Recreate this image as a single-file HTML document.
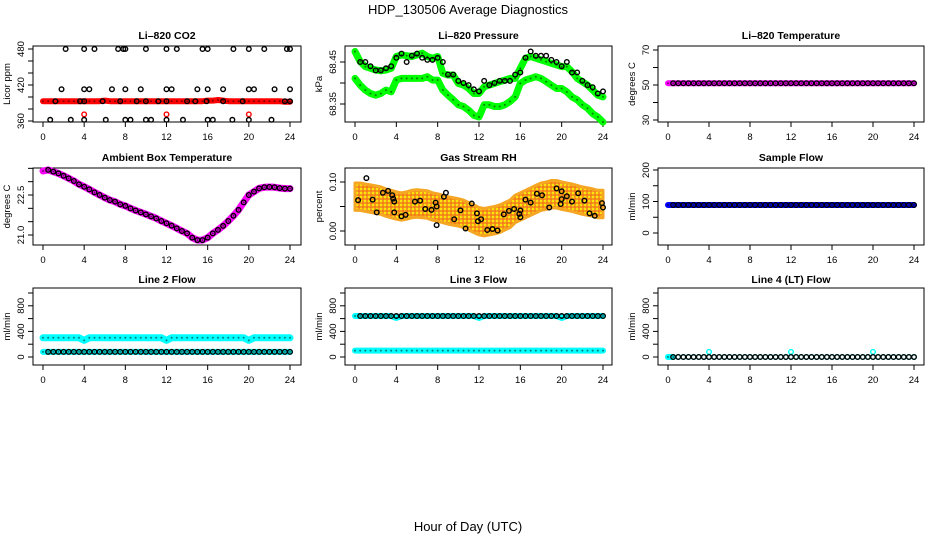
<!DOCTYPE html>
<html><head><meta charset="utf-8"><style>
html,body{margin:0;padding:0;background:#fff;}
svg{display:block;font-family:"Liberation Sans",Arial,sans-serif;}
</style></head><body>
<svg id="chart" width="936" height="540" viewBox="0 0 936 540">
<text x="468" y="14" text-anchor="middle" font-size="13">HDP_130506  Average Diagnostics</text>
<text x="468" y="531" text-anchor="middle" font-size="13">Hour of Day (UTC)</text>
</svg>
<script>
// ---------- data ----------
const hours = [0,0.5,1,1.5,2,2.5,3,3.5,4,4.5,5,5.5,6,6.5,7,7.5,8,8.5,9,9.5,10,10.5,11,11.5,12,12.5,13,13.5,14,14.5,15,15.5,16,16.5,17,17.5,18,18.5,19,19.5,20,20.5,21,21.5,22,22.5,23,23.5,24];
const xTicks = [0,4,8,12,16,20,24];

// CO2
const co2Red = [393,393,393,393,393,393,393,393,393,393,393,393,394,393,393,393,393,393,393,393,393,393,393,393,393,393,393,393,393,393,393,393,394,394,395,394,393,393,393,393,393,393,393,393,393,393,393,392,392];
const co2RedOutHours = [4,12,20];
const co2RedOut = [371,371,371];
const co2BlackHours = [0.7,1.2,1.8,2.2,2.7,3.6,4,4,4,4,4.5,5,5.8,6.1,6.7,7.3,7.5,7.8,8,8,8,8.5,9.1,9.5,10,10,10,10.5,11.2,12,12,12,12,12.5,13,13.6,14,14.8,15,15.5,15.9,16,16,16,16.5,17.5,17.5,18.4,18.5,19.4,20,20,20,20.5,21.5,22.2,22.5,23.5,23.7,24,24,24];
const co2Black = [362,393,413,480,362,393,480,413,393,362,413,480,393,362,413,480,393,480,480,413,362,362,393,413,480,393,362,362,393,480,413,393,362,413,480,362,393,393,413,480,393,480,413,362,362,413,393,362,480,393,480,413,362,413,480,362,413,393,480,480,413,393];

// Pressure
const presUpper = [68.475,68.451,68.439,68.435,68.431,68.429,68.431,68.435,68.463,68.467,68.465,68.463,68.467,68.471,68.463,68.459,68.463,68.423,68.419,68.419,68.399,68.395,68.387,68.375,68.375,68.391,68.395,68.399,68.403,68.407,68.411,68.411,68.435,68.459,68.463,68.459,68.455,68.451,68.447,68.443,68.439,68.439,68.427,68.411,68.403,68.395,68.383,68.371,68.367];
const presLower = [68.411,68.395,68.383,68.375,68.371,68.375,68.383,68.379,68.407,68.411,68.411,68.411,68.411,68.411,68.415,68.407,68.407,68.383,68.371,68.360,68.348,68.344,68.335,68.323,68.319,68.348,68.348,68.344,68.344,68.348,68.356,68.367,68.399,68.407,68.411,68.415,68.411,68.403,68.395,68.387,68.387,68.379,68.367,68.360,68.348,68.340,68.327,68.319,68.307];
const presBlack = [68.45,68.45,68.44,68.43,68.43,68.435,68.44,68.46,68.47,68.45,68.465,68.47,68.46,68.455,68.455,68.46,68.45,68.42,68.42,68.405,68.40,68.395,68.385,68.38,68.405,68.395,68.40,68.405,68.405,68.405,68.42,68.425,68.46,68.475,68.465,68.465,68.465,68.455,68.45,68.44,68.45,68.425,68.425,68.405,68.395,68.39,68.375,68.38];

// Li-820 Temperature
const tempMag = [51,51,51,51,51,51,51,51,51,51,51,51,51,51,51,51,51,51,51,51,51,51,51,51,51,51,51,51,51,51,51,51,51,51,51,51,51,51,51,51,51,51,51,51,51,51,51,51,51];
const tempBlack = [51,51,51,51,51,51,51,51,51,51,51,51,51,51,51,51,51,51,51,51,51,51,51,51,51,51,51,51,51,51,51,51,51,51,51,51,51,51,51,51,51,51,51,51,51,51,51,51];

// Ambient box temperature
const ambMag = [23.40,23.44,23.375,23.31,23.22,23.125,23.025,22.90,22.81,22.71,22.60,22.50,22.40,22.31,22.25,22.15,22.09,22.00,21.92,21.85,21.775,21.70,21.625,21.525,21.44,21.35,21.25,21.15,21.06,20.90,20.81,20.81,20.90,21.06,21.19,21.34,21.525,21.72,21.94,22.225,22.50,22.625,22.75,22.79,22.80,22.79,22.76,22.74,22.74];
const ambBlack = [23.44,23.375,23.31,23.22,23.125,23.025,22.90,22.81,22.71,22.60,22.50,22.40,22.31,22.25,22.15,22.09,22.00,21.92,21.85,21.775,21.70,21.625,21.525,21.44,21.35,21.25,21.15,21.06,20.90,20.81,20.81,20.90,21.06,21.19,21.34,21.525,21.72,21.94,22.225,22.50,22.625,22.75,22.79,22.80,22.79,22.76,22.74,22.74];

// Gas stream RH
const rhMid = [0.07,0.07,0.068,0.066,0.064,0.062,0.058,0.055,0.052,0.05,0.052,0.055,0.056,0.055,0.054,0.05,0.048,0.045,0.042,0.04,0.038,0.035,0.03,0.025,0.02,0.018,0.02,0.022,0.025,0.03,0.035,0.045,0.05,0.055,0.06,0.065,0.07,0.072,0.075,0.075,0.072,0.07,0.068,0.065,0.062,0.06,0.058,0.055,0.055];
const rhBlackHours = [0.3,1.1,1.7,2.1,2.7,3.2,3.6,3.7,3.8,3.8,4.5,4.9,5.8,6.3,6.8,7.4,7.8,7.9,7.9,8.6,8.8,9.6,10.2,10.7,11.3,11.8,11.9,12.2,12.8,13.3,13.8,14.4,14.9,15.4,15.9,16,16,16.5,17,17.6,18.1,18.8,19.5,19.9,20,20,20.5,21,21.6,22.2,22.7,23.2,23.9,24];
const rhBlack = [0.063,0.108,0.064,0.038,0.078,0.082,0.073,0.066,0.060,0.038,0.030,0.033,0.060,0.062,0.045,0.043,0.058,0.050,0.012,0.070,0.078,0.024,0.042,0.005,0.056,0.036,0.020,0.024,0.002,0.004,0.001,0.034,0.041,0.045,0.035,0.028,0.042,0.064,0.058,0.076,0.073,0.048,0.087,0.055,0.065,0.081,0.071,0.060,0.077,0.062,0.036,0.031,0.057,0.048];

// Sample flow
const sampleBlue = [89,89,89,89,89,89,89,89,89,89,89,89,89,89,89,89,89,89,89,89,89,89,89,89,89,89,89,89,89,89,89,89,89,89,89,89,89,89,89,89,89,89,89,89,89,89,89,89,89];
const sampleBlack = [89,89,89,89,89,89,89,89,89,89,89,89,89,89,89,89,89,89,89,89,89,89,89,89,89,89,89,89,89,89,89,89,89,89,89,89,89,89,89,89,89,89,89,89,89,89,89,89];

// Line 2 flow
const line2High = [300,300,300,300,300,300,300,300,260,300,300,300,300,300,300,300,300,300,300,300,300,300,300,300,260,300,300,300,300,300,300,300,300,300,300,300,300,300,300,300,260,300,300,300,300,300,300,300,300];
const line2Low = [80,80,80,80,80,80,80,80,80,80,80,80,80,80,80,80,80,80,80,80,80,80,80,80,80,80,80,80,80,80,80,80,80,80,80,80,80,80,80,80,80,80,80,80,80,80,80,80,80];
const line2Black = [80,80,80,80,80,80,80,80,80,80,80,80,80,80,80,80,80,80,80,80,80,80,80,80,80,80,80,80,80,80,80,80,80,80,80,80,80,80,80,80,80,80,80,80,80,80,80,80];

// Line 3 flow
const line3High = [640,640,640,640,640,640,640,640,610,640,640,640,640,640,640,640,640,640,640,640,640,640,640,640,610,640,640,640,640,640,640,640,640,640,640,640,640,640,640,640,610,640,640,640,640,640,640,640,640];
const line3Low = [100,100,100,100,100,100,100,100,100,100,100,100,100,100,100,100,100,100,100,100,100,100,100,100,100,100,100,100,100,100,100,100,100,100,100,100,100,100,100,100,100,100,100,100,100,100,100,100,100];
const line3Black = [640,640,640,640,640,640,640,640,640,640,640,640,640,640,640,640,640,640,640,640,640,640,640,640,640,640,640,640,640,640,640,640,640,640,640,640,640,640,640,640,640,640,640,640,640,640,640,640];

// Line 4 flow
const line4Cyan = [0,0,0,0,0,0,0,0,0,0,0,0,0,0,0,0,0,0,0,0,0,0,0,0,0,0,0,0,0,0,0,0,0,0,0,0,0,0,0,0,0,0,0,0,0,0,0,0,0];
const line4BlipHours = [4,12,20];
const line4Blip = [80,80,80];
const line4Black = [0,0,0,0,0,0,0,0,0,0,0,0,0,0,0,0,0,0,0,0,0,0,0,0,0,0,0,0,0,0,0,0,0,0,0,0,0,0,0,0,0,0,0,0,0,0,0,0];

// ---------- drawing ----------
const NS = "http://www.w3.org/2000/svg";
const svg = document.getElementById('chart');
const blackHours = hours.slice(1);

const cols = [{b0:33,b1:301,x0:43,x24:290},{b0:345,b1:612,x0:355,x24:603},{b0:658,b1:924,x0:668,x24:914}];
const rows = [{t:46,b:122,title:35},{t:168,b:245,title:157},{t:288,b:365,title:279}];

function mk(tag, attrs, parent){
  const e = document.createElementNS(NS, tag);
  for (const k in attrs) e.setAttribute(k, attrs[k]);
  (parent||svg).appendChild(e);
  return e;
}

function panel(c, r, title, ylab, cal, ticks, labels, name){
  const C = cols[c], R = rows[r];
  const g = mk('g', {});
  
  
  const xs = h => C.x0 + (C.x24 - C.x0) * h / 24;
  const ys = v => cal[1] + (v - cal[0]) * (cal[3] - cal[1]) / (cal[2] - cal[0]);
  const t = mk('text', {x:(C.b0+C.b1)/2, y:R.title+4, 'text-anchor':'middle', 'font-size':10.5, 'font-weight':'bold'}, g);
  t.textContent = title;
  
  
  const box = mk('rect', {x:C.b0, y:R.t, width:C.b1-C.b0, height:R.b-R.t, fill:'none', stroke:'#000', 'stroke-width':1}, g);
  
  
  const xa = mk('g', {}, g);
  
  
  mk('line', {x1:xs(0), x2:xs(24), y1:R.b, y2:R.b, stroke:'#000'}, xa);
  xTicks.forEach(h => {
    mk('line', {x1:xs(h), x2:xs(h), y1:R.b, y2:R.b+5, stroke:'#000'}, xa);
    const l = mk('text', {x:xs(h), y:R.b+18, 'text-anchor':'middle', 'font-size':9.5}, xa);
    l.textContent = h;
  });
  const ya = mk('g', {}, g);
  
  
  mk('line', {x1:C.b0, x2:C.b0, y1:ys(ticks[0]), y2:ys(ticks[ticks.length-1]), stroke:'#000'}, ya);
  ticks.forEach(v => mk('line', {x1:C.b0-5, x2:C.b0, y1:ys(v), y2:ys(v), stroke:'#000'}, ya));
  labels.forEach(s => {
    const y = ys(parseFloat(s));
    const l = mk('text', {x:C.b0-9, y:y, 'text-anchor':'middle', 'font-size':9.5, transform:`rotate(-90 ${C.b0-9} ${y})`}, ya);
    l.textContent = s;
  });
  const yl = mk('text', {x:C.b0-23, y:(R.t+R.b)/2, 'text-anchor':'middle', 'font-size':9.5, transform:`rotate(-90 ${C.b0-23} ${(R.t+R.b)/2})`}, g);
  yl.textContent = ylab;
  
  
  return {g, xs, ys};
}

function band(p, hs, vals, color, name, w){
  const pts = hs.map((h,i) => p.xs(h).toFixed(1)+','+p.ys(vals[i]).toFixed(1)).join(' ');
  const pl = mk('polyline', {points:pts, fill:'none', stroke:color, 'stroke-width':w||6, 'stroke-linejoin':'round', 'stroke-linecap':'round'}, p.g);
  
  
  hs.forEach((h,i) => mk('circle', {cx:p.xs(h), cy:p.ys(vals[i]), r:1, fill:'#000', opacity:0.5}, p.g));
}
function circles(p, hs, vals, color, name, r){
  const gg = mk('g', {}, p.g);
  
  
  hs.forEach((h,i) => mk('circle', {cx:p.xs(h), cy:p.ys(vals[i]), r:r||2.3, fill:'none', stroke:color, 'stroke-width':1.4}, gg));
}

const defs = mk('defs', {});
const pat = mk('pattern', {id:'rhpat', width:4, height:4, patternUnits:'userSpaceOnUse'}, defs);
mk('rect', {width:4, height:4, fill:'#f39a1e'}, pat);
mk('circle', {cx:1, cy:1, r:1, fill:'#ffff00'}, pat);
mk('circle', {cx:3, cy:3, r:0.8, fill:'#ff3300', opacity:0.6}, pat);

let p = panel(0,0,'Li\u2013820 CO2','Licor ppm',[480,49,360,121],[360,380,400,420,440,460,480],['360','420','480'],'co2');
band(p, hours, co2Red, '#ff0000', 'co2-red-series', 6);
circles(p, co2RedOutHours, co2RedOut, '#ff0000', 'co2-red-outliers');
circles(p, co2BlackHours, co2Black, '#000', 'co2-black-points');

p = panel(1,0,'Li\u2013820 Pressure','kPa',[68.45,62,68.35,104],[68.35,68.40,68.45],['68.35','68.45'],'pressure');
band(p, hours, presUpper, '#00ff00', 'pressure-upper-series', 7);
band(p, hours, presLower, '#00ff00', 'pressure-lower-series', 7);
circles(p, blackHours, presBlack, '#000', 'pressure-black-points');

p = panel(2,0,'Li\u2013820 Temperature','degrees C',[70,50,30,120],[30,40,50,60,70],['30','50','70'],'li820-temp');
band(p, hours, tempMag, '#ff00ff', 'temp-magenta-series', 6);
circles(p, blackHours, tempBlack, '#000', 'temp-black-points');

p = panel(0,1,'Ambient Box Temperature','degrees C',[22.5,195,21.0,235],[21.0,21.5,22.0,22.5,23.0,23.5],['21.0','22.5'],'ambient');
band(p, hours, ambMag, '#ff00ff', 'ambient-magenta-series', 7);
circles(p, blackHours, ambBlack, '#000', 'ambient-black-points');

p = panel(1,1,'Gas Stream RH','percent',[0.10,182,0.00,231],[0.00,0.05,0.10],['0.00','0.10'],'rh');
{
  const up = hours.map((h,i) => p.xs(h).toFixed(1)+','+p.ys(rhMid[i]+0.028).toFixed(1));
  const dn = hours.map((h,i) => p.xs(h).toFixed(1)+','+p.ys(rhMid[i]-0.028).toFixed(1)).reverse();
  const poly = mk('polygon', {points:up.concat(dn).join(' '), fill:'url(#rhpat)', stroke:'#f5a623', 'stroke-width':3, 'stroke-linejoin':'round'}, p.g);
  
  
}
circles(p, rhBlackHours, rhBlack, '#000', 'rh-black-points');

p = panel(2,1,'Sample Flow','ml/min',[200,170,0,233],[0,50,100,150,200],['0','100','200'],'sample-flow');
band(p, hours, sampleBlue, '#0000ff', 'sample-blue-series', 6);
circles(p, blackHours, sampleBlack, '#000', 'sample-black-points');

p = panel(0,2,'Line 2 Flow','ml/min',[1000,293,0,357],[0,200,400,600,800,1000],['0','400','800'],'line2');
band(p, hours, line2High, '#00ffff', 'line2-high-series', 7);
band(p, hours, line2Low, '#00ffff', 'line2-low-series', 6);
circles(p, blackHours, line2Black, '#000', 'line2-black-points');

p = panel(1,2,'Line 3 Flow','ml/min',[1000,293,0,357],[0,200,400,600,800,1000],['0','400','800'],'line3');
band(p, hours, line3High, '#00ffff', 'line3-high-series', 6);
band(p, hours, line3Low, '#00ffff', 'line3-low-series', 6);
circles(p, blackHours, line3Black, '#000', 'line3-black-points');

p = panel(2,2,'Line 4 (LT) Flow','ml/min',[1000,293,0,357],[0,200,400,600,800,1000],['0','400','800'],'line4');
band(p, hours.slice(0,2), line4Cyan.slice(0,2), '#00ffff', 'line4-cyan-series', 6);
circles(p, line4BlipHours, line4Blip, '#00ffff', 'line4-cyan-blips');
circles(p, hours, line4Cyan, '#00ffff', 'line4-cyan-points', 2.3);
circles(p, blackHours, line4Black, '#000', 'line4-black-points');
</script>
</body></html>
